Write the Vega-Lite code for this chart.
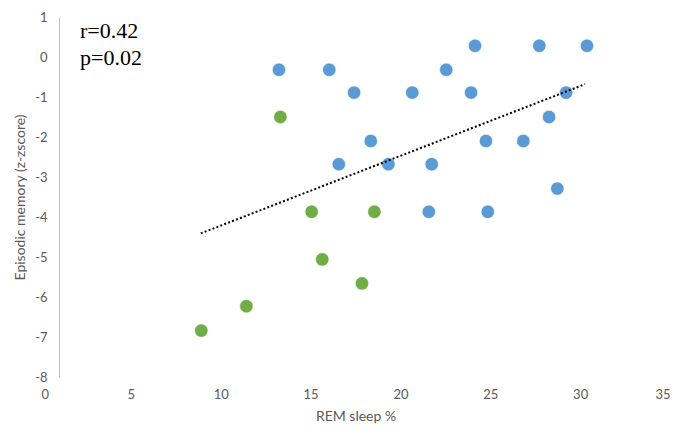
{
  "$schema": "https://vega.github.io/schema/vega-lite/v6.json",
  "autosize": "none",
  "width": 629,
  "height": 360,
  "padding": {"left": 41, "top": 17, "right": 8, "bottom": 51},
  "background": "white",
  "config": {"view": {"stroke": null}, "font": "Lato", "axis": {"labelOverlap": false}},
  "datasets": {
    "pts": [
      {"rem": 24.15, "mem": 0.28, "grp": "a"},
      {"rem": 27.73, "mem": 0.28, "grp": "a"},
      {"rem": 30.38, "mem": 0.28, "grp": "a"},
      {"rem": 13.24, "mem": -0.32, "grp": "a"},
      {"rem": 16.04, "mem": -0.32, "grp": "a"},
      {"rem": 22.55, "mem": -0.32, "grp": "a"},
      {"rem": 17.42, "mem": -0.89, "grp": "a"},
      {"rem": 20.66, "mem": -0.89, "grp": "a"},
      {"rem": 23.93, "mem": -0.89, "grp": "a"},
      {"rem": 29.22, "mem": -0.89, "grp": "a"},
      {"rem": 28.27, "mem": -1.5, "grp": "a"},
      {"rem": 18.35, "mem": -2.1, "grp": "a"},
      {"rem": 24.76, "mem": -2.1, "grp": "a"},
      {"rem": 26.84, "mem": -2.1, "grp": "a"},
      {"rem": 16.57, "mem": -2.68, "grp": "a"},
      {"rem": 19.33, "mem": -2.68, "grp": "a"},
      {"rem": 21.74, "mem": -2.68, "grp": "a"},
      {"rem": 28.73, "mem": -3.29, "grp": "a"},
      {"rem": 21.58, "mem": -3.87, "grp": "a"},
      {"rem": 24.86, "mem": -3.87, "grp": "a"},
      {"rem": 13.32, "mem": -1.5, "grp": "b"},
      {"rem": 15.06, "mem": -3.87, "grp": "b"},
      {"rem": 18.55, "mem": -3.87, "grp": "b"},
      {"rem": 15.65, "mem": -5.06, "grp": "b"},
      {"rem": 17.86, "mem": -5.66, "grp": "b"},
      {"rem": 11.43, "mem": -6.23, "grp": "b"},
      {"rem": 8.92, "mem": -6.84, "grp": "b"}
    ],
    "trend": [
      {"rem": 8.89, "mem": -4.41},
      {"rem": 30.27, "mem": -0.68}
    ],
    "stats": [
      {"rem": 2.17, "mem": 0.475, "label": "r=0.42"},
      {"rem": 2.17, "mem": -0.2, "label": "p=0.02"}
    ]
  },
  "encoding": {
    "x": {
      "field": "rem", "type": "quantitative",
      "scale": {"domain": [0, 35], "nice": false, "zero": false},
      "axis": {
        "title": "REM sleep %", "values": [0, 5, 10, 15, 20, 25, 30, 35],
        "domain": false, "ticks": false, "grid": false, "labelOverlap": false,
        "labelPadding": 11, "labelFontSize": 13, "labelColor": "#595959", "labelFont": "Lato",
        "titleFontSize": 14, "titleColor": "#595959", "titleFontWeight": "normal", "titleFont": "Lato",
        "titlePadding": 8
      }
    },
    "y": {
      "field": "mem", "type": "quantitative",
      "scale": {"domain": [-8, 1], "nice": false, "zero": false},
      "axis": {
        "title": "Episodic memory (z-zscore)", "values": [1, 0, -1, -2, -3, -4, -5, -6, -7, -8],
        "labelExpr": "datum.value + ''",
        "offset": -18, "domain": true, "domainColor": "#bfbfbf", "domainWidth": 1,
        "ticks": false, "grid": false, "labelOverlap": false,
        "labelPadding": 12, "labelFontSize": 13, "labelColor": "#595959", "labelFont": "Lato",
        "titleFontSize": 14, "titleColor": "#595959", "titleFontWeight": "normal", "titleFont": "Lato",
        "titlePadding": 7
      }
    }
  },
  "layer": [
    {
      "data": {"name": "pts"},
      "mark": {"type": "circle", "size": 180, "opacity": 1, "stroke": "white", "strokeWidth": 0.6},
      "encoding": {
        "color": {
          "field": "grp", "type": "nominal",
          "scale": {"domain": ["a", "b"], "range": ["#5B9BD5", "#70AD47"]},
          "legend": null
        }
      }
    },
    {
      "data": {"name": "trend"},
      "mark": {"type": "line", "color": "#000000", "strokeWidth": 2, "strokeDash": [2, 2.2]},
      "encoding": {}
    },
    {
      "data": {"name": "stats"},
      "mark": {"type": "text", "align": "left", "baseline": "alphabetic", "font": "Liberation Serif", "fontSize": 22, "color": "#000000"},
      "encoding": {
        "text": {"field": "label"}
      }
    }
  ]
}
